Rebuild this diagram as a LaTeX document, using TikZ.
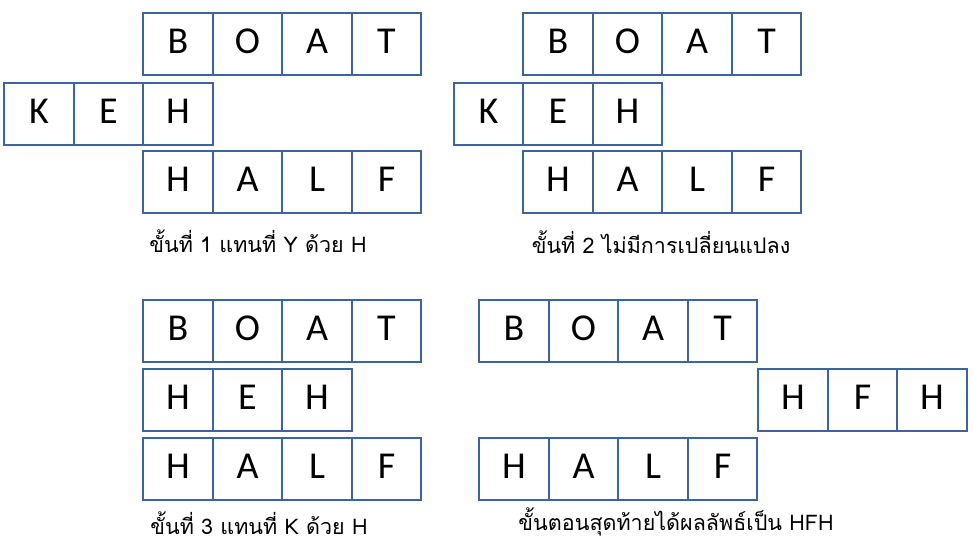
\documentclass[tikz,border=0pt]{standalone}
\usepackage{fontspec}
\usetikzlibrary{positioning}
\setmainfont{Carlito}
\newfontfamily\thaifont[Script=Thai]{Loma}
\definecolor{cellblue}{HTML}{3B64A0}
\definecolor{captext}{HTML}{000000}
\tikzset{
  cell/.style={draw=cellblue, line width=2.4pt, minimum width=69.5pt, minimum height=62pt,
    inner sep=0pt, font=\fontsize{38}{40}\selectfont, text height=25pt, text depth=6pt},
  caption/.style={anchor=base, text=captext, font=\thaifont\fontsize{21.5}{24}\selectfont}
}

\begin{document}
\begin{tikzpicture}[x=1pt, y=-1pt]
    \useasboundingbox (0,0) rectangle (973,550);
    % step 1
    \node[cell] (p1b1) at (178,44) {B};
    \node[cell] (p1b2) at (247.5,44) {O};
    \node[cell] (p1b3) at (317,44) {A};
    \node[cell] (p1b4) at (386.5,44) {T};
    \node[cell] (p1k1) at (39,114) {K};
    \node[cell] (p1k2) at (108.5,114) {E};
    \node[cell] (p1k3) at (178,114) {H};
    \node[cell] (p1h1) at (178,182) {H};
    \node[cell] (p1h2) at (247.5,182) {A};
    \node[cell] (p1h3) at (317,182) {L};
    \node[cell] (p1h4) at (386.5,182) {F};
    \node[caption] (cap1) at (258,252) {ขั้นที่ 1 แทนที่ Y ด้วย H};
    % step 2
    \node[cell] (p2b1) at (558,44) {B};
    \node[cell] (p2b2) at (627.5,44) {O};
    \node[cell] (p2b3) at (697,44) {A};
    \node[cell] (p2b4) at (766.5,44) {T};
    \node[cell] (p2k1) at (488.5,114) {K};
    \node[cell] (p2k2) at (558,114) {E};
    \node[cell] (p2k3) at (627.5,114) {H};
    \node[cell] (p2h1) at (558,182) {H};
    \node[cell] (p2h2) at (627.5,182) {A};
    \node[cell] (p2h3) at (697,182) {L};
    \node[cell] (p2h4) at (766.5,182) {F};
    \node[caption] (cap2) at (661,253) {ขั้นที่ 2 ไม่มีการเปลี่ยนแปลง};
    % step 3
    \node[cell] (p3b1) at (178,331) {B};
    \node[cell] (p3b2) at (247.5,331) {O};
    \node[cell] (p3b3) at (317,331) {A};
    \node[cell] (p3b4) at (386.5,331) {T};
    \node[cell] (p3k1) at (178,400) {H};
    \node[cell] (p3k2) at (247.5,400) {E};
    \node[cell] (p3k3) at (317,400) {H};
    \node[cell] (p3h1) at (178,469) {H};
    \node[cell] (p3h2) at (247.5,469) {A};
    \node[cell] (p3h3) at (317,469) {L};
    \node[cell] (p3h4) at (386.5,469) {F};
    \node[caption] (cap3) at (259,534) {ขั้นที่ 3 แทนที่ K ด้วย H};
    % final step
    \node[cell] (p4b1) at (514,331) {B};
    \node[cell] (p4b2) at (583.5,331) {O};
    \node[cell] (p4b3) at (653,331) {A};
    \node[cell] (p4b4) at (722.5,331) {T};
    \node[cell] (p4r1) at (793,400) {H};
    \node[cell] (p4r2) at (862.5,400) {F};
    \node[cell] (p4r3) at (932,400) {H};
    \node[cell] (p4h1) at (514,469) {H};
    \node[cell] (p4h2) at (583.5,469) {A};
    \node[cell] (p4h3) at (653,469) {L};
    \node[cell] (p4h4) at (722.5,469) {F};
    \node[caption] (cap4) at (676,530) {ขั้นตอนสุดท้ายได้ผลลัพธ์เป็น HFH};
\end{tikzpicture}
\end{document}
